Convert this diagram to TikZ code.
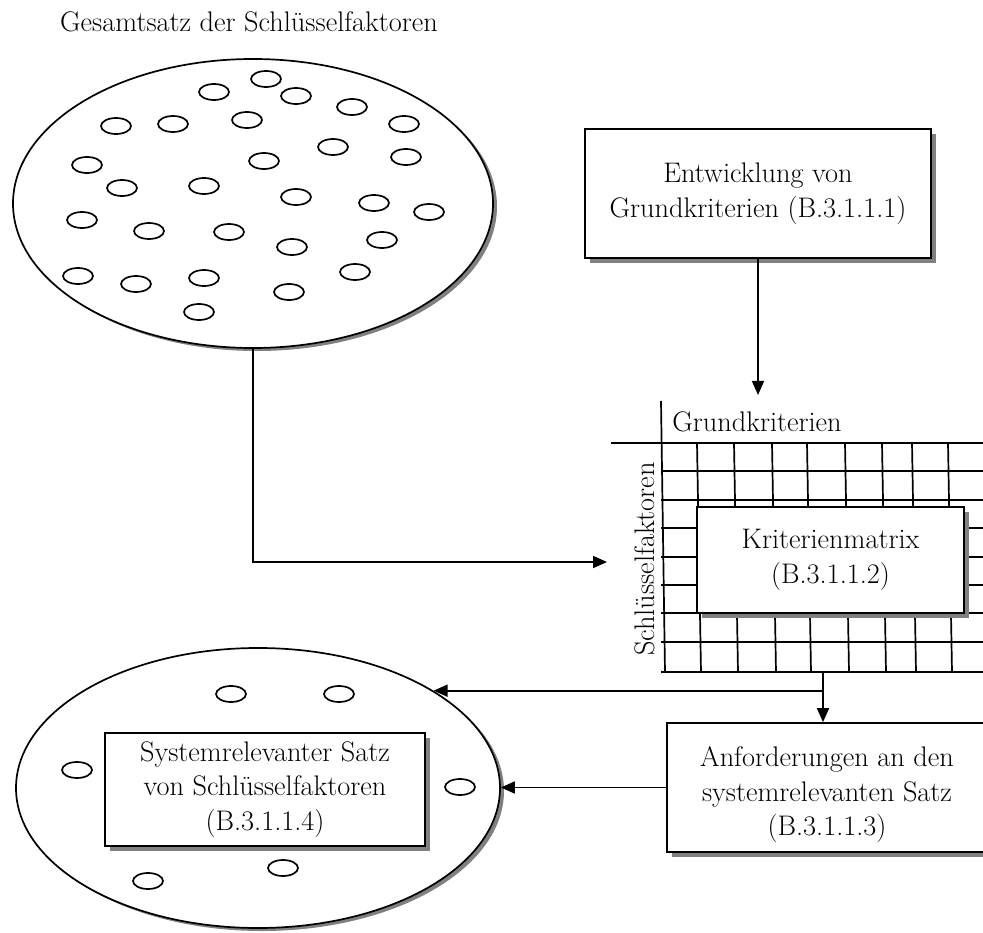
\documentclass[tikz,border=0pt]{standalone}
\usetikzlibrary{shapes.geometric,shadows,arrows.meta,calc}
\begin{document}
\begin{tikzpicture}[x=1pt,y=-1pt,line width=1.7pt,
  txt/.style={font=\fontsize{28.3}{34.5}\selectfont, align=center},
  boxshadow/.style={drop shadow={shadow xshift=5pt, shadow yshift=-5pt, fill=black!50, opacity=1}},
  box/.style={draw, fill=white, boxshadow, txt, inner sep=0pt},
  blob/.style={ellipse, draw, fill=white, inner sep=0pt,
    drop shadow={shadow xshift=4pt, shadow yshift=-3pt, fill=black!50, opacity=1}},
  dot/.style={ellipse, draw, minimum width=30pt, minimum height=16pt, inner sep=0pt},
  arr/.style={-{Triangle[length=14pt,width=12pt]}}]

\clip (0,0) rectangle (983,933);

% title
\node[txt] (title) at (249,22) {Gesamtsatz der Schlüsselfaktoren};

% full set of key factors
\node[blob, minimum width=480pt, minimum height=289pt] (big1) at (253,203.5) {};
\foreach \px/\py [count=\i] in {
  266/79, 214/92, 296/96, 352/107, 404/124, 116/126, 173/124, 247/120,
  333/147, 406/157, 264/161, 87/165, 122/188, 204/186, 296/197, 374/203,
  429/212, 82/220, 149/231, 229/232, 292/247, 382/240, 78/276, 136/284,
  204/278, 289/292, 355/272, 199/312}
  \node[dot] (s\i) at (\px,\py) {};

% basic criteria
\node[box, minimum width=346pt, minimum height=129pt] (ent) at (758,193.5)
  {Entwicklung von\\Grundkriterien (B.3.1.1.1)};

% criteria matrix grid
\draw (611,443) -- (990,443);
\foreach \gy in {471,500,528,557,585,613,642,672}
  \draw (661,\gy) -- (990,\gy);
\draw (661,401) -- (665,672);
\foreach \gx in {697,734,772,807,845,882,912,948}
  \draw (\gx,443) -- (\gx+4,672);
\node[txt] (gk) at (757,422) {Grundkriterien};
\node[txt, rotate=90] (sf) at (645,559) {Schlüsselfaktoren};
\node[box, minimum width=267pt, minimum height=106pt] (km) at (830.5,560)
  {Kriterienmatrix\\(B.3.1.1.2)};

% requirements
\node[box, minimum width=320pt, minimum height=129pt] (anf) at (827,787.5)
  {\rule{0pt}{10pt}\\[-10pt]Anforderungen an den\\systemrelevanten Satz\\(B.3.1.1.3)};

% system-relevant set
\node[blob, minimum width=484pt, minimum height=280pt] (big2) at (258,788) {};
\foreach \px/\py [count=\i] in {231/694, 339/694, 77/770, 460/787, 283/868, 148/881}
  \node[dot] (t\i) at (\px,\py) {};
\node[box, minimum width=320pt, minimum height=113pt] (sys) at (265,789.5)
  {Systemrelevanter Satz\\von Schlüsselfaktoren\\(B.3.1.1.4)};

% connectors
\coordinate (mIn) at (607,562);
\coordinate (mTop) at (758,395);
\coordinate (gridBot) at (823,672);
\draw[arr] (big1.south) |- (mIn);
\draw[arr] (ent.south) -- (mTop);
\draw[arr] (gridBot) -- (gridBot |- anf.north);
\draw[arr] (gridBot |- big2.29) -- (big2.29);
\draw[arr] (anf.west) -- (anf.west -| big2.east);
\end{tikzpicture}
\end{document}
